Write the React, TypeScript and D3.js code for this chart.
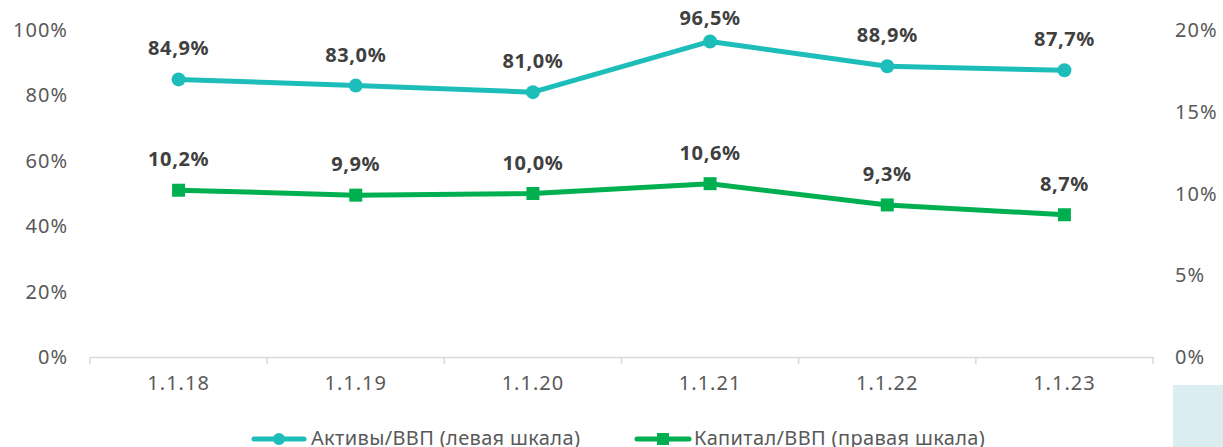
import React, { useEffect, useRef } from 'react';
import * as d3 from 'd3';

const categories = ['1.1.18', '1.1.19', '1.1.20', '1.1.21', '1.1.22', '1.1.23'];
const assetsGdp = [84.9, 83.0, 81.0, 96.5, 88.9, 87.7];
const capitalGdp = [10.2, 9.9, 10.0, 10.6, 9.3, 8.7];
const leftTicks = [0, 20, 40, 60, 80, 100];
const rightTicks = [0, 5, 10, 15, 20];
const legendLabels = ['Активы/ВВП (левая шкала)', 'Капитал/ВВП (правая шкала)'];

const TEAL = '#1dbdb9';
const GREEN = '#00b050';
const FONT = "'Noto Sans', sans-serif";

const App = () => {
  const svgRef = useRef<SVGSVGElement>(null);

  useEffect(() => {
    const width = 1223;
    const height = 447;
    const svg = d3.select(svgRef.current).attr('width', width).attr('height', height);
    svg.selectAll('*').remove();

    const x = d3.scaleBand().domain(categories).range([90, 1153]);
    const yL = d3.scaleLinear().domain([0, 100]).range([357, 30]);
    const yR = d3.scaleLinear().domain([0, 20]).range([357, 30]);
    const cx = (c: string) => (x(c) as number) + x.bandwidth() / 2;

    // light decoration at bottom right
    svg.append('rect').attr('x', 1173).attr('y', 385).attr('width', 50).attr('height', 62).attr('fill', '#daeef1');

    // left axis labels
    svg
      .append('g')
      .selectAll('text')
      .data(leftTicks)
      .join('text')
      .attr('x', 68)
      .attr('y', (d) => yL(d))
      .attr('dy', '0.35em')
      .attr('text-anchor', 'end')
      .attr('font-family', FONT)
      .attr('font-size', 20)
      .attr('letter-spacing', 1)
      .attr('fill', '#595959')
      .text((d) => `${d}%`);

    // right axis labels
    svg
      .append('g')
      .selectAll('text')
      .data(rightTicks)
      .join('text')
      .attr('x', 1175)
      .attr('y', (d) => yR(d))
      .attr('dy', '0.35em')
      .attr('text-anchor', 'start')
      .attr('font-family', FONT)
      .attr('font-size', 20)
      .attr('letter-spacing', 1)
      .attr('fill', '#595959')
      .text((d) => `${d}%`);

    // x axis
    const xAxis = svg
      .append('g')
      .attr('transform', `translate(0,${yL(0)})`)
      .call(d3.axisBottom(x).tickSize(0).tickPadding(19));
    xAxis.select('.domain').attr('stroke', '#d9d9d9').attr('stroke-width', 1.5);
    xAxis.selectAll('text').attr('font-family', FONT).attr('font-size', 20).attr('letter-spacing', 1).attr('fill', '#595959');
    const edges = categories.map((c) => x(c) as number).concat([1153]);
    xAxis
      .selectAll('line.edge')
      .data(edges)
      .join('line')
      .attr('class', 'edge')
      .attr('x1', (d) => d)
      .attr('x2', (d) => d)
      .attr('y1', 0)
      .attr('y2', 7)
      .attr('stroke', '#d9d9d9')
      .attr('stroke-width', 1.5);

    // assets line
    svg
      .append('path')
      .datum(assetsGdp)
      .attr('fill', 'none')
      .attr('stroke', TEAL)
      .attr('stroke-width', 5)
      .attr('stroke-linejoin', 'round')
      .attr('d', d3.line<number>().x((_, i) => cx(categories[i])).y((d) => yL(d)));
    svg
      .append('g')
      .selectAll('circle')
      .data(assetsGdp)
      .join('circle')
      .attr('cx', (_, i) => cx(categories[i]))
      .attr('cy', (d) => yL(d))
      .attr('r', 7)
      .attr('fill', TEAL);

    // capital line
    svg
      .append('path')
      .datum(capitalGdp)
      .attr('fill', 'none')
      .attr('stroke', GREEN)
      .attr('stroke-width', 5)
      .attr('stroke-linejoin', 'round')
      .attr('d', d3.line<number>().x((_, i) => cx(categories[i])).y((d) => yR(d)));
    svg
      .append('g')
      .selectAll('rect')
      .data(capitalGdp)
      .join('rect')
      .attr('x', (_, i) => cx(categories[i]) - 6.5)
      .attr('y', (d) => yR(d) - 6.5)
      .attr('width', 13)
      .attr('height', 13)
      .attr('fill', GREEN);

    // data labels (kept inside the top edge, like Excel does)
    const fmt = (v: number) => `${v.toFixed(1).replace('.', ',')}%`;
    const labels = svg
      .append('g')
      .attr('font-family', FONT)
      .attr('font-size', 20)
      .attr('letter-spacing', 0.6)
      .attr('font-weight', 700)
      .attr('fill', '#404040')
      .attr('text-anchor', 'middle');
    labels
      .selectAll('text.a')
      .data(assetsGdp)
      .join('text')
      .attr('class', 'a')
      .attr('x', (_, i) => cx(categories[i]))
      .attr('y', (d) => Math.max(yL(d) - 24, 25))
      .text((d) => fmt(d));
    labels
      .selectAll('text.c')
      .data(capitalGdp)
      .join('text')
      .attr('class', 'c')
      .attr('x', (_, i) => cx(categories[i]))
      .attr('y', (d) => yR(d) - 24)
      .text((d) => fmt(d));

    // legend
    const legend = svg.append('g').attr('font-family', FONT).attr('font-size', 20).attr('letter-spacing', 0.35).attr('fill', '#595959');
    const ly = 439;
    legend.append('line').attr('x1', 254).attr('x2', 304).attr('y1', ly).attr('y2', ly).attr('stroke', TEAL).attr('stroke-width', 5).attr('stroke-linecap', 'round');
    legend.append('circle').attr('cx', 279).attr('cy', ly).attr('r', 6).attr('fill', TEAL);
    legend.append('text').attr('x', 311).attr('y', 445).text(legendLabels[0]);
    legend.append('line').attr('x1', 637).attr('x2', 689).attr('y1', ly).attr('y2', ly).attr('stroke', GREEN).attr('stroke-width', 5).attr('stroke-linecap', 'round');
    legend.append('rect').attr('x', 657).attr('y', ly - 6).attr('width', 12).attr('height', 12).attr('fill', GREEN);
    legend.append('text').attr('x', 694).attr('y', 445).text(legendLabels[1]);
  }, []);

  return <svg ref={svgRef} style={{ position: 'absolute', left: 0, top: 0 }}></svg>;
};

export default App;
